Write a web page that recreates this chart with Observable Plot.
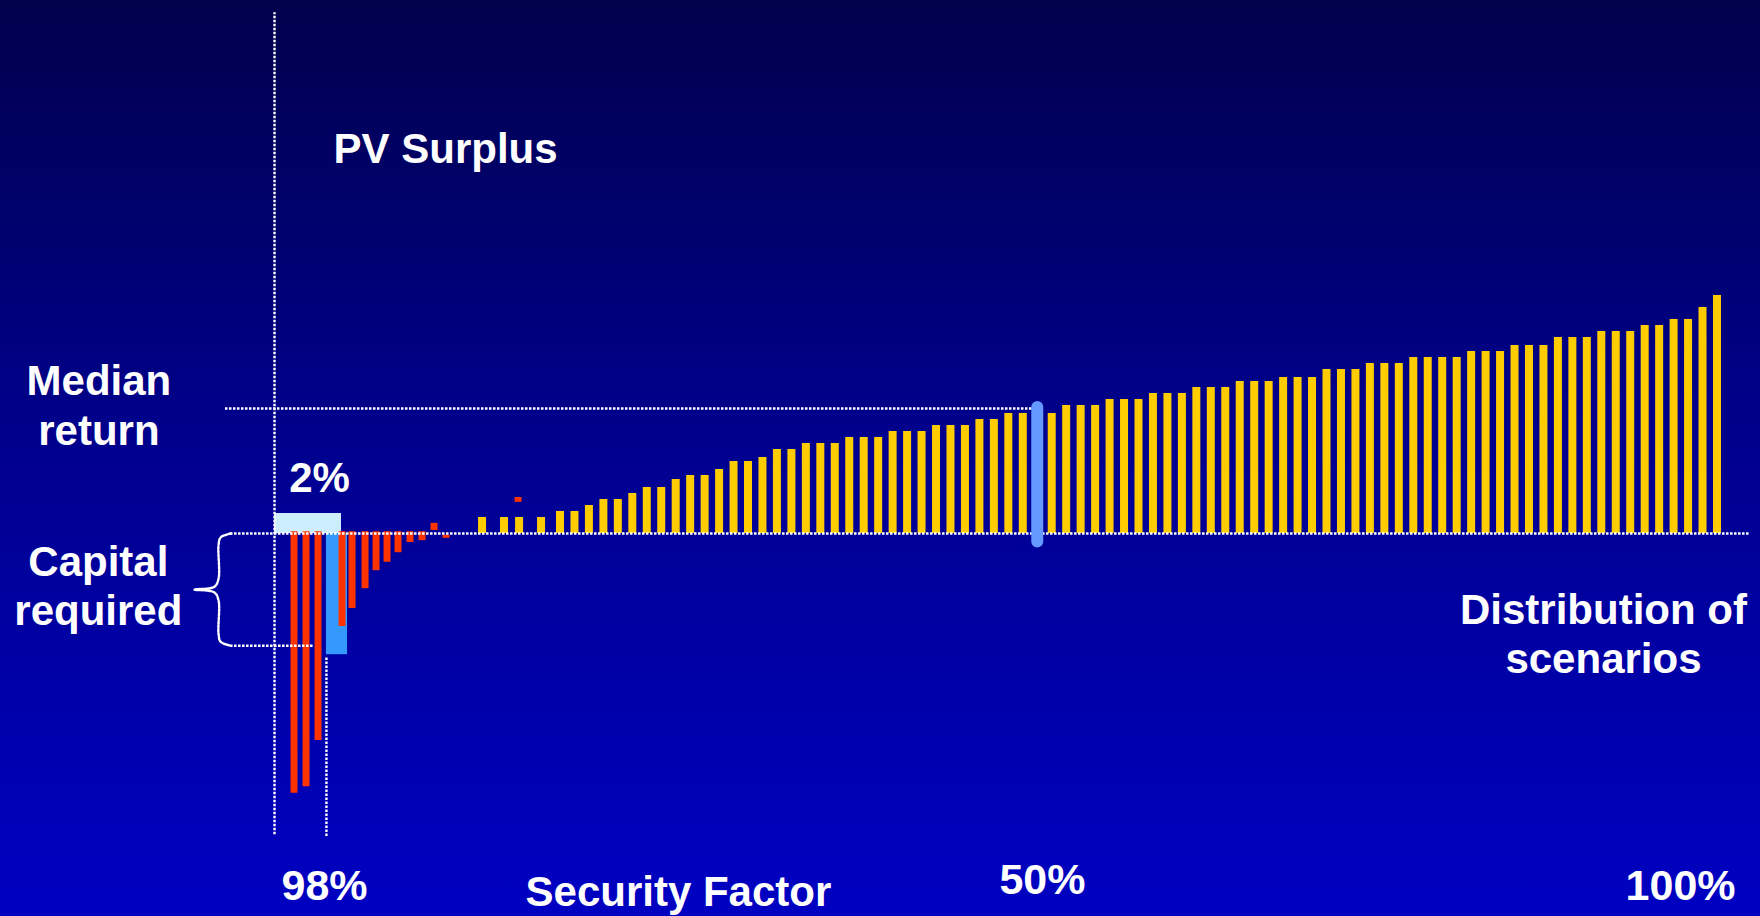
<!DOCTYPE html>
<html>
<head>
<meta charset="utf-8">
<script src="https://cdn.jsdelivr.net/npm/d3@7"></script>
<script src="https://cdn.jsdelivr.net/npm/@observablehq/plot@0.6"></script>
<style>
  html, body { margin: 0; padding: 0; }
  body { width: 1760px; height: 916px; overflow: hidden;
         background: linear-gradient(to bottom, #00004c 0%, #00008a 45%, #0000c2 100%); }
  #chart svg { display: block; }
</style>
</head>
<body>
<div id="chart"></div>
<script>
// ---- Data (x = scenario rank, sorted by PV surplus; y = PV surplus, arbitrary units) ----
// Tail scenarios (losses) beyond the 98% security factor
const redX = [1.61, 2.44, 3.27, 4.93, 5.62, 6.52, 7.28, 8.04, 8.80, 9.63, 10.46];
const redV = [-43.3, -42.2, -34.5, -15.5, -12.5, -9.2, -6.2, -4.8, -3.2, -1.5, -1.2];
// small stray red pieces
const strayX  = [11.29, 12.12, 17.10];
const strayLo = [0.5, -0.3, 5.2];
const strayHi = [1.7, -0.8, 6.0];
// capital required bar (the 98% scenario) and the 2% tail box
const capitalSpan = [3.85, 5.31];
const capitalBar = -20.2;
const capitalLevel = -18.7;
const tailSpan = [0.26, 4.89];
const tailHeight = 3.33;
// first few positive scenarios (irregular spacing)
const earlyX = [14.61, 16.13, 17.17, 18.69];
const earlyV = [2.67, 2.67, 2.67, 2.67];
// positive scenarios, ranks 20..52
const lowRanksStart = 20;
const lowV = [3.67, 3.67, 4.67, 5.67, 5.67, 6.67, 7.67, 7.67, 9.0, 9.67, 9.67, 10.67,
              12.0, 12.0, 12.67, 14.0, 14.0, 15.0, 15.0, 15.0, 16.0, 16.0, 16.0,
              17.0, 17.0, 17.0, 18.0, 18.0, 18.0, 19.0, 19.0, 20.0, 20.0];
// median scenario
const medianRank = 53;
const medianValue = 20.83;
// positive scenarios, ranks 54..100
const highRanksStart = 54;
const highV = [20.0, 21.33, 21.33, 21.33, 22.33, 22.33, 22.33, 23.33, 23.33, 23.33,
               24.33, 24.33, 24.33, 25.33, 25.33, 25.33, 26.0, 26.0, 26.0,
               27.33, 27.33, 27.33, 28.33, 28.33, 28.33, 29.33, 29.33, 29.33, 29.33,
               30.33, 30.33, 30.33, 31.33, 31.33, 31.33, 32.67, 32.67, 32.67,
               33.67, 33.67, 33.67, 34.67, 34.67, 35.67, 35.67, 37.67, 39.67];
// bottom labels
const tickLabels = ["98%", "50%", "100%"];
const tickRanks = [3.72, 53.36, 97.48];
const tickY = [-61, -60, -61];
// annotation labels
const noteText = ["Median\nreturn", "Capital\nrequired", "2%", "Distribution of\nscenarios", "Security Factor"];
const noteX = [-11.88, -11.92, 3.37, 92.15, 28.19];
const noteY = [14.83, -15.33, 7.0, -23.33, -62];
const titleText = "PV Surplus";
const titlePos = [4.34, 61.67];

// ---- Tables ----
const red = redX.map((x, i) => ({x, v: redV[i]}));
const stray = strayX.map((x, i) => ({x, lo: strayLo[i], hi: strayHi[i]}));
const yellow = [
  ...earlyX.map((x, i) => ({x, v: earlyV[i]})),
  ...lowV.map((v, i) => ({x: lowRanksStart + i, v})),
  ...highV.map((v, i) => ({x: highRanksStart + i, v}))
];
const ticks = tickLabels.map((t, i) => ({t, x: tickRanks[i], y: tickY[i]}));
const notes = noteText.map((t, i) => ({t, x: noteX[i], y: noteY[i]}));

// brace from 0 down to capital level
const bx = -3.61, bTip = -5.27, bEnd = -2.78;
const bMid = capitalLevel / 2;
const brace = [
  [bEnd, 0], [bx + 0.14, -0.67], [bx, -2], [bx, bMid + 1.8], [bx - 0.3, bMid + 0.45], [bTip, bMid],
  [bx - 0.3, bMid - 0.45], [bx, bMid - 1.8], [bx, capitalLevel + 2], [bx + 0.14, capitalLevel + 0.67], [bEnd, capitalLevel]
].map(([x, y]) => ({x, y}));

const font = "Liberation Sans, Arial, Helvetica, sans-serif";
const dot = {stroke: "white", strokeWidth: 2.4, strokeDasharray: "2.5,1.5"};
const txt = {fill: "white", fontSize: 42, fontWeight: "bold", fontFamily: font, lineAnchor: "bottom", lineHeight: 1.19};

const chart = Plot.plot({
  width: 1760,
  height: 916,
  margin: 0,
  style: {background: "transparent", overflow: "visible"},
  x: {domain: [-18.686, 103.008], axis: null},
  y: {domain: [-63.833, 88.833], axis: null},
  marks: [
    // 2% tail box
    Plot.rect([0], {x1: tailSpan[0], x2: tailSpan[1], y1: 0, y2: tailHeight, fill: "#cdeeff"}),
    // capital required bar
    Plot.rect([0], {x1: capitalSpan[0], x2: capitalSpan[1], y1: 0, y2: capitalBar, fill: "#3399ff"}),
    // loss scenarios
    Plot.ruleX(red, {x: "x", y1: 0.3, y2: "v", stroke: "#ff3300", strokeWidth: 7}),
    Plot.ruleX(stray, {x: "x", y1: "lo", y2: "hi", stroke: "#ff3300", strokeWidth: 7}),
    // positive scenarios
    Plot.ruleX(yellow, {x: "x", y1: 0, y2: "v", stroke: "#ffcc00", strokeWidth: 8}),
    // dotted guide lines
    Plot.ruleY([0], {x1: bEnd, x2: 102.31, ...dot}),
    Plot.ruleY([medianValue], {x1: -3.13, x2: medianRank, ...dot}),
    Plot.ruleY([capitalLevel], {x1: bEnd, x2: 3.03, ...dot}),
    Plot.ruleX([tailSpan[0]], {y1: -50.2, y2: 86.8, ...dot}),
    Plot.ruleX([capitalSpan[0]], {y1: -50.5, y2: -20.7, ...dot}),
    Plot.line(brace, {x: "x", y: "y", curve: "catmull-rom", ...dot}),
    // median scenario
    Plot.ruleX([medianRank], {x: d => d, y1: -0.4, y2: medianValue, stroke: "#6699ff", strokeWidth: 12,
      strokeLinecap: "round", insetTop: 6, insetBottom: 1}),
    // texts
    Plot.text([titleText], {x: titlePos[0], y: titlePos[1], text: d => d, textAnchor: "start", ...txt}),
    Plot.text(notes, {x: "x", y: "y", text: "t", textAnchor: "middle", ...txt}),
    Plot.text(ticks, {x: "x", y: "y", text: "t", textAnchor: "middle", ...txt, fontSize: 43})
  ]
});
document.getElementById("chart").appendChild(chart);
</script>
</body>
</html>
